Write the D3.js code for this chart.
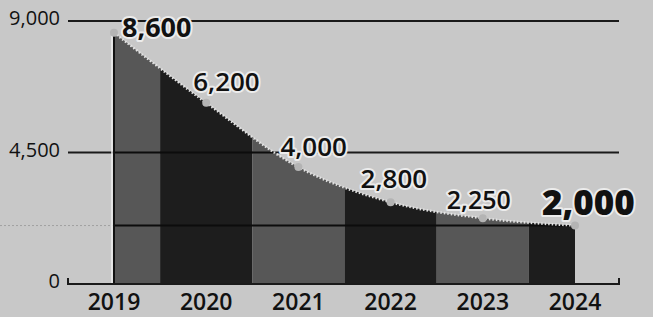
<!DOCTYPE html>
<html>
<head>
<meta charset="utf-8">
<script src="https://cdn.jsdelivr.net/npm/d3@7"></script>
<style>
  body { margin: 0; background: #c8c8c8; }
  svg { display: block; }
  text { font-family: "Open Sans", sans-serif; fill: #111; }
</style>
</head>
<body>
<svg id="chart" width="653" height="317"></svg>
<script>
// data
var years = ["2019", "2020", "2021", "2022", "2023", "2024"]
var values = [8600, 6200, 4000, 2800, 2250, 2000]
var yTicks = [0, 4500, 9000]
var refValue = 2000 // thin line inside the area at the 2024 level

// label placement relative to each point (px)
var labelDx = [8, -13, -18, -30, -36, -33]
var labelDy = [4, -12, -11, -14, -9, -11]
var labelSize = [27, 26, 26, 26, 25, 35]
var labelWeight = [700, 600, 600, 600, 600, 800]

var svg = d3.select("#chart")
var fmt = d3.format(",")

var x = d3.scalePoint().domain(years).range([114, 575])
var y = d3.scaleLinear().domain([0, 9000]).range([284, 21])

// gridlines (behind the area)
svg.selectAll("line.grid")
  .data(yTicks.filter(d => d > 0))
  .enter().append("line")
  .attr("class", "grid")
  .attr("x1", 68).attr("x2", 619)
  .attr("y1", d => y(d)).attr("y2", d => y(d))
  .attr("stroke", "#1a1a1a").attr("stroke-width", 2)

// faint show-through line left of the area
svg.append("line")
  .attr("x1", 0).attr("x2", x(years[0]))
  .attr("y1", y(refValue)).attr("y2", y(refValue))
  .attr("stroke", "#a0a0a0").attr("stroke-width", 1)
  .attr("stroke-dasharray", "2,2")

var area = d3.area()
  .x((d, i) => x(years[i]))
  .y0(y(0))
  .y1(d => y(d))
  .curve(d3.curveMonotoneX)

var line = d3.line()
  .x((d, i) => x(years[i]))
  .y(d => y(d))
  .curve(d3.curveMonotoneX)

svg.append("clipPath").attr("id", "areaclip")
  .append("path").attr("d", area(values))

var step = x.step()
var bands = svg.append("g").attr("clip-path", "url(#areaclip)")
bands.selectAll("rect")
  .data(years)
  .enter().append("rect")
  .attr("x", d => x(d) - step / 2)
  .attr("width", step)
  .attr("y", y(9000))
  .attr("height", y(0) - y(9000))
  .attr("fill", (d, i) => i % 2 == 0 ? "#575757" : "#1d1d1d")

// gridlines seen through the area
bands.selectAll("line")
  .data(yTicks.filter(d => d > 0).concat([refValue]))
  .enter().append("line")
  .attr("x1", 68).attr("x2", 619)
  .attr("y1", d => y(d)).attr("y2", d => y(d))
  .attr("stroke", "#0c0c0c").attr("stroke-width", 2)

// left edge of the area, with a thin light rim
svg.append("line")
  .attr("x1", x(years[0]) - 2).attr("x2", x(years[0]) - 2)
  .attr("y1", y(values[0])).attr("y2", y(0))
  .attr("stroke", "#eeeeee").attr("stroke-width", 1.5)
svg.append("line")
  .attr("x1", x(years[0])).attr("x2", x(years[0]))
  .attr("y1", y(values[0])).attr("y2", y(0))
  .attr("stroke", "#111").attr("stroke-width", 2)

// stippled top line
svg.append("path")
  .attr("d", line(values))
  .attr("fill", "none")
  .attr("stroke", "#e4e4e4")
  .attr("stroke-width", 2.5)
  .attr("stroke-dasharray", "1.5,2")

svg.selectAll("circle")
  .data(values)
  .enter().append("circle")
  .attr("cx", (d, i) => x(years[i]))
  .attr("cy", d => y(d))
  .attr("r", 4)
  .attr("fill", "#b4b4b4")

// baseline with end ticks
svg.append("path")
  .attr("d", "M68," + (y(0) - 6) + "V" + y(0) + "H619V" + (y(0) - 6))
  .attr("fill", "none")
  .attr("stroke", "#1a1a1a").attr("stroke-width", 2)

// y labels
svg.selectAll("text.ytick")
  .data(yTicks)
  .enter().append("text")
  .attr("class", "ytick")
  .attr("x", 60)
  .attr("y", d => y(d) + 4)
  .attr("text-anchor", "end")
  .style("font-size", "20px")
  .style("font-weight", 500)
  .text(d => fmt(d))

// year labels
svg.selectAll("text.year")
  .data(years)
  .enter().append("text")
  .attr("class", "year")
  .attr("x", d => x(d))
  .attr("y", 310)
  .attr("text-anchor", "middle")
  .style("font-size", "23px")
  .style("font-weight", 600)
  .text(d => d)

// value labels with light halo
svg.selectAll("text.val")
  .data(values)
  .enter().append("text")
  .attr("class", "val")
  .attr("x", (d, i) => x(years[i]) + labelDx[i])
  .attr("y", (d, i) => y(d) + labelDy[i])
  .style("font-size", (d, i) => labelSize[i] + "px")
  .style("font-weight", (d, i) => labelWeight[i])
  .style("paint-order", "stroke")
  .attr("stroke", "#ececec")
  .attr("stroke-width", 4)
  .attr("stroke-linejoin", "round")
  .text(d => fmt(d))
</script>
</body>
</html>
